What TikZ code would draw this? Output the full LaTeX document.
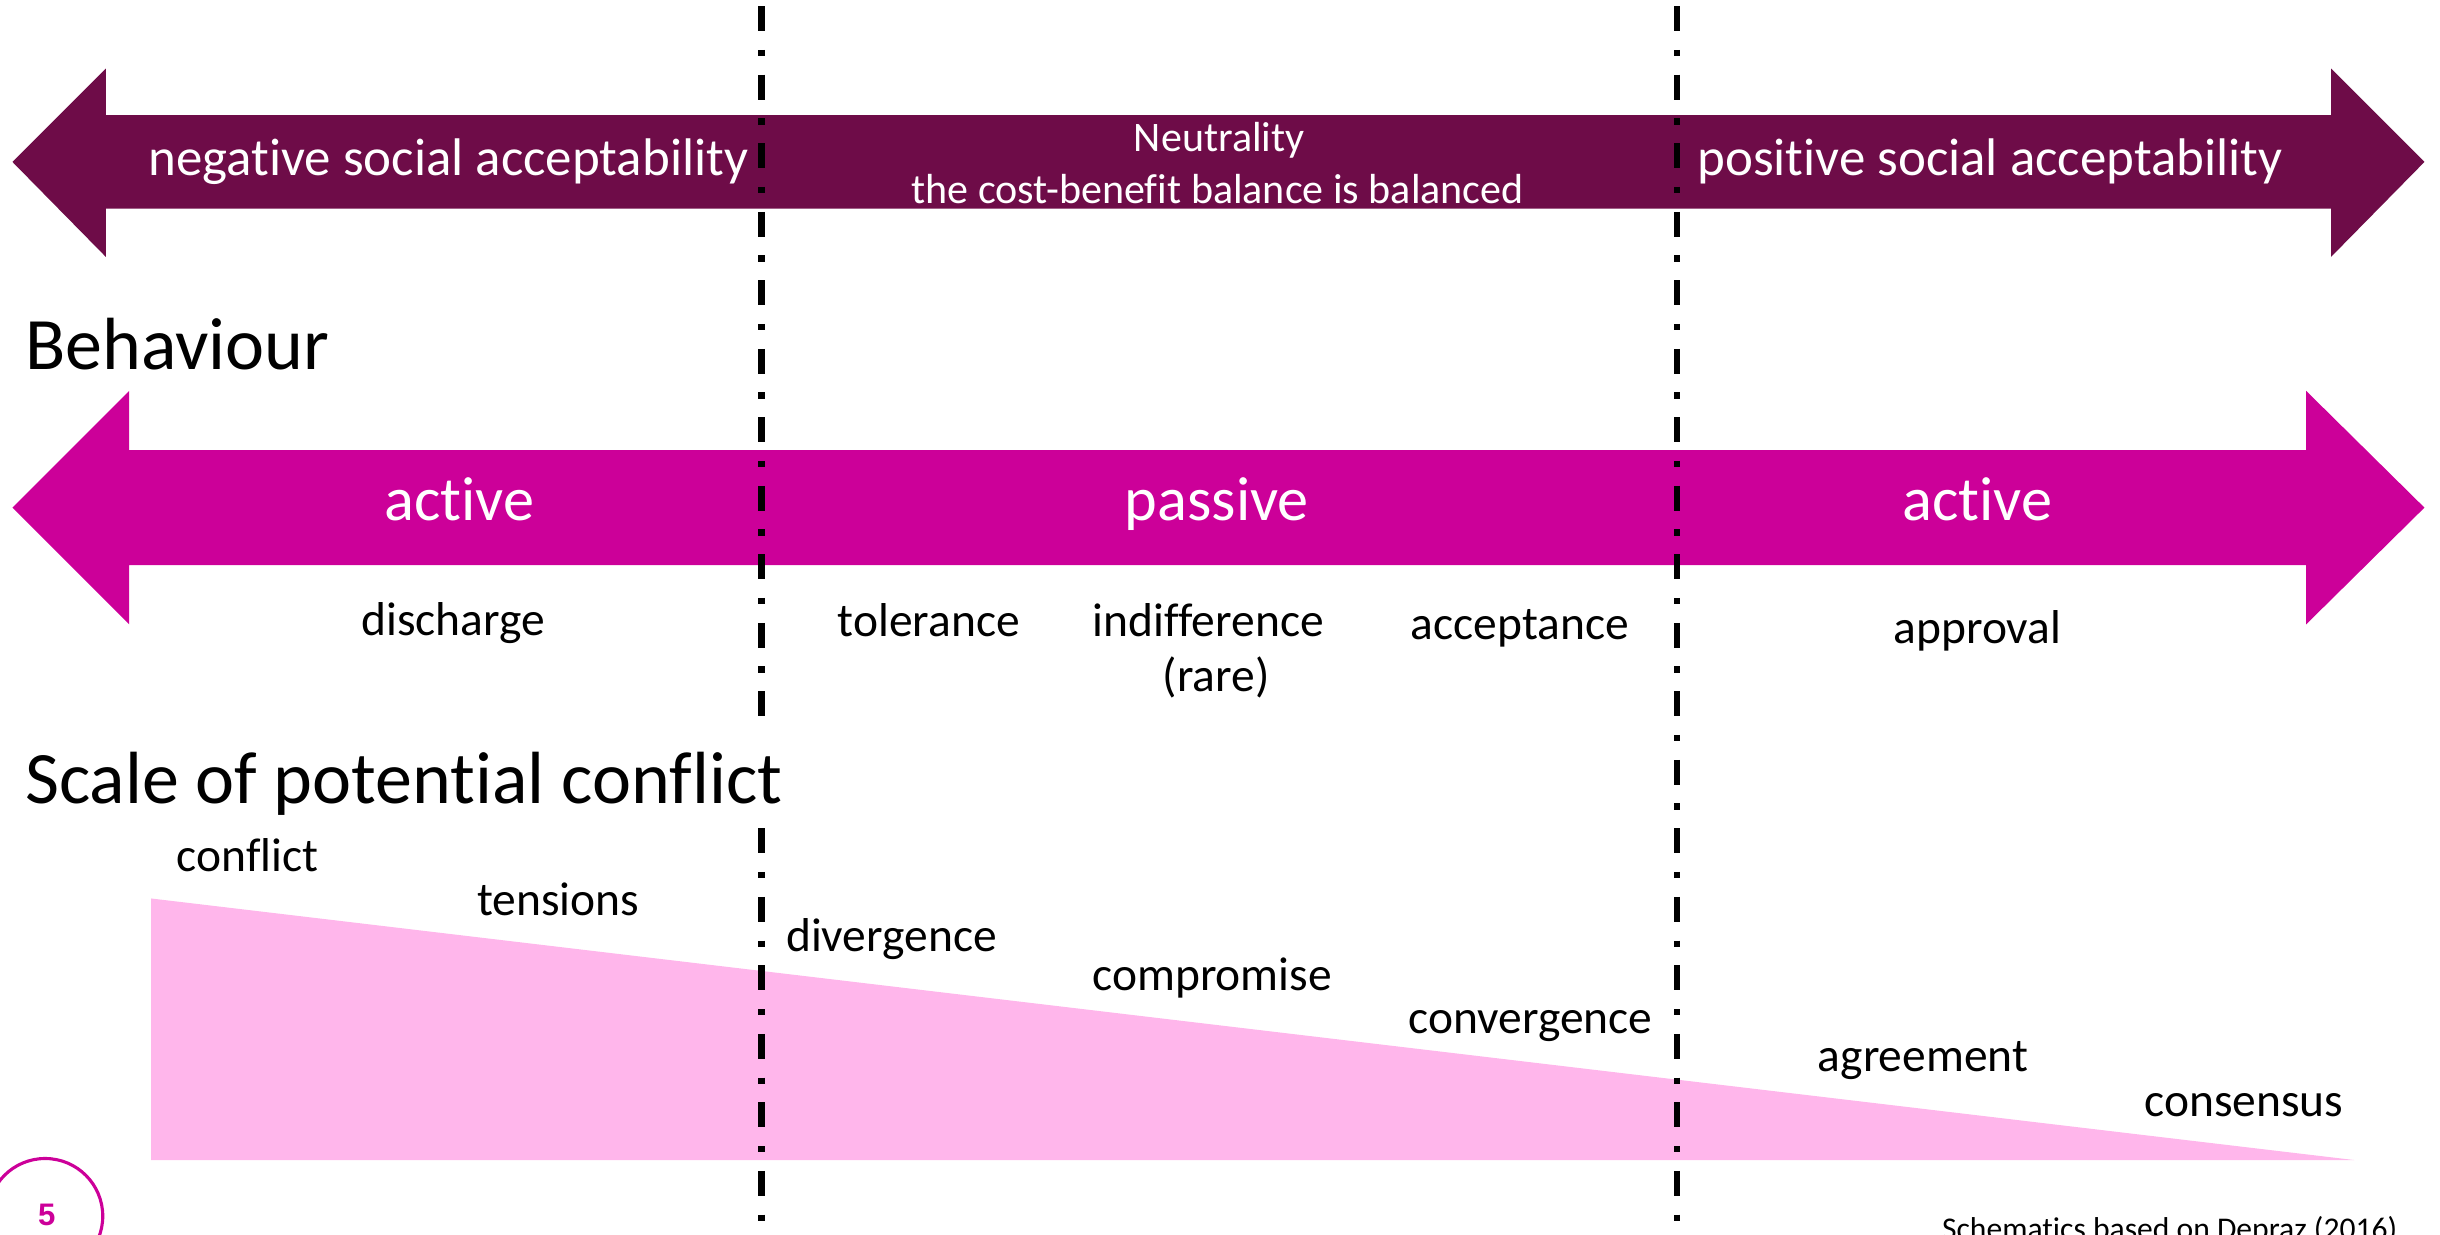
\documentclass[tikz,border=0pt]{standalone}
\usepackage{fontspec}
\setmainfont{Carlito}[Ligatures=NoCommon]
\newfontfamily\numfont{Liberation Sans}
\definecolor{accdark}{RGB}{110,12,72}
\definecolor{accmag}{RGB}{204,0,153}
\definecolor{conpink}{RGB}{255,182,235}
\tikzset{
  wlab/.style={text=white, inner sep=0pt, anchor=base},
  blab/.style={text=black, inner sep=0pt, anchor=base, font=\fontsize{30.5}{36}\selectfont},
  headlab/.style={text=black, anchor=base west, inner xsep=0pt, font=\fontsize{47.5}{57}\selectfont},
  sepline/.style={line width=4pt, dash pattern=on 16pt off 12pt on 4pt off 12pt, dash phase=40pt},
}
\begin{document}
\begin{tikzpicture}[x=1pt,y=-1pt]
\useasboundingbox (0,0) rectangle (1567,792.5);
% top arrow
\fill[accdark] (8,104) -- (68,44) -- (68,74) -- (1497,74) -- (1497,44) -- (1557,104)
  -- (1497,165) -- (1497,134) -- (68,134) -- (68,165) -- cycle;
% middle arrow
\fill[accmag] (8,326) -- (83,251) -- (83,289) -- (1481,289) -- (1481,251) -- (1557,326)
  -- (1481,401) -- (1481,363) -- (83,363) -- (83,401) -- cycle;
% triangle
\fill[conpink] (97,577) -- (97,745) -- (1512,745) -- cycle;
% separators
\coordinate (s1t) at (489,0);
\coordinate (s1b) at (489,800);
\coordinate (s2t) at (1077,0);
\coordinate (s2b) at (1077,800);
\draw[sepline] (s1t) -- (s1b);
\draw[sepline] (s2t) -- (s2b);
% top arrow texts
\node[wlab, font=\fontsize{34}{40}\selectfont] (neg) at (288,113) {negative social acceptability};
\node[wlab, font=\fontsize{34}{40}\selectfont] (pos) at (1278,113) {positive social acceptability};
\node[wlab, font=\fontsize{27}{32}\selectfont] (neu) at (783,97.5) {Neutrality};
\node[wlab, font=\fontsize{27}{32}\selectfont] (cb) at (782,130.5) {the cost-benefit balance is balanced};
% headings
\node[headlab, inner ysep=0pt] (beh) at (16,237) {Behaviour};
\node[headlab, fill=white, text height=51pt, text depth=13pt, inner ysep=3pt] (scale) at (16,516) {Scale of potential conflict};
% middle arrow texts
\node[wlab, font=\fontsize{40}{48}\selectfont] (act1) at (295,334) {active};
\node[wlab, font=\fontsize{40}{48}\selectfont] (pas) at (781.5,334) {passive};
\node[wlab, font=\fontsize{40}{48}\selectfont] (act2) at (1270,334) {active};
% behaviour labels
\node[blab] (dis) at (291,408) {discharge};
\node[blab] (tol) at (596.5,409) {tolerance};
\node[blab] (ind) at (776,409) {indifference};
\node[blab] (rare) at (781,444) {(rare)};
\node[blab] (acc) at (976,410.5) {acceptance};
\node[blab] (app) at (1270,413) {approval};
% conflict labels
\node[blab] (cfl) at (159,560) {conflict};
\node[blab] (ten) at (358.5,588) {tensions};
\node[blab] (div) at (572.5,611) {divergence};
\node[blab] (com) at (778.5,636) {compromise};
\node[blab] (con) at (983,664) {convergence};
\node[blab] (agr) at (1235,688) {agreement};
\node[blab] (cns) at (1441,717) {consensus};
% footer
\node[text=black, anchor=base west, inner sep=0pt, font=\fontsize{20.3}{24}\selectfont] (src) at (1247,796) {Schematics based on Depraz (2016)};
\node[draw=accmag, line width=2pt, circle, minimum size=74pt, inner sep=0pt] (pgc) at (29,781) {};
\node[text=accmag, anchor=base, inner sep=0pt, font=\numfont\bfseries\fontsize{20}{24}\selectfont] (pg) at (30,787) {5};
\end{tikzpicture}
\end{document}
